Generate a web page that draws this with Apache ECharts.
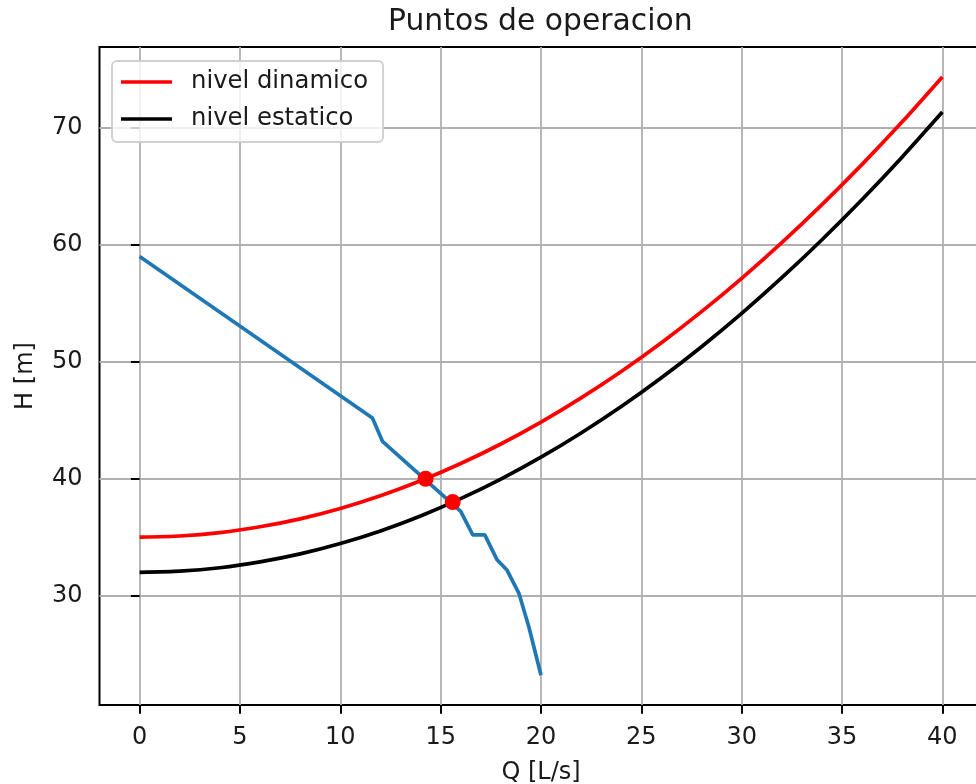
<!DOCTYPE html>
<html>
<head>
<meta charset="utf-8">
<script src="https://cdn.jsdelivr.net/npm/echarts@6/dist/echarts.min.js"></script>
<style>
html,body{margin:0;padding:0;background:#fff;}
#chart{width:976px;height:784px;}
</style>
</head>
<body>
<div id="chart"></div>
<script>
// ---- data ----
const qSystem = [0, 2, 4, 6, 8, 10, 12, 14, 16, 18, 20, 22, 24, 26, 28, 30, 32, 34, 36, 38, 40];
const hDinamico = [35.0, 35.1, 35.39, 35.89, 36.57, 37.46, 38.54, 39.82, 41.3, 42.97, 44.84, 46.91, 49.17, 51.63, 54.29, 57.14, 60.19, 63.44, 66.88, 70.52, 74.36];
const hEstatico = [32.0, 32.1, 32.39, 32.89, 33.57, 34.46, 35.54, 36.82, 38.3, 39.97, 41.84, 43.91, 46.17, 48.63, 51.29, 54.14, 57.19, 60.44, 63.88, 67.52, 71.36];
const qBomba = [0, 11.6, 12.1, 16.0, 16.6, 17.2, 17.8, 18.3, 18.9, 19.4, 20.0];
const hBomba = [59.0, 45.2, 43.2, 37.2, 35.2, 35.2, 33.1, 32.2, 30.2, 27.3, 23.2];
const qOper = [14.25, 15.6];
const hOper = [40.0, 38.0];
const xTicks = [0, 5, 10, 15, 20, 25, 30, 35, 40];
const yTicks = [30, 40, 50, 60, 70];
const titleText = 'Puntos de operacion';
const xName = 'Q [L/s]';
const yName = 'H [m]';
const nameDin = 'nivel dinamico';
const nameEst = 'nivel estatico';

const pairs = (xs, ys) => xs.map((x, i) => [x, ys[i]]);
const FONT = 'DejaVu Sans';
const TXT = '#1a1a1a';

const chart = echarts.init(document.getElementById('chart'), null, {renderer: 'canvas'});
chart.setOption({
  animation: false,
  backgroundColor: '#fff',
  title: {
    text: titleText,
    left: 388, top: 7, padding: 0,
    textStyle: {fontFamily: FONT, fontSize: 29.8, fontWeight: 'normal', color: TXT}
  },
  grid: {
    left: 99.5, top: 47, width: 883, height: 658,
    outerBoundsMode: 'none',
    show: true, borderColor: '#000', borderWidth: 2, backgroundColor: 'transparent',
    containLabel: false
  },
  legend: {
    data: [nameDin, nameEst],
    orient: 'vertical',
    left: 112, top: 61,
    padding: [7, 15, 9, 9],
    itemGap: 9,
    itemWidth: 51, itemHeight: 3.7,
    icon: 'rect',
    backgroundColor: 'rgba(255,255,255,0.8)',
    borderColor: 'rgba(204,204,204,0.9)', borderWidth: 2, borderRadius: 5,
    textStyle: {fontFamily: FONT, fontSize: 24.3, color: TXT, lineHeight: 28, padding: [0, 0, 0, 14]}
  },
  xAxis: {
    type: 'value', min: -2, max: 42,
    name: xName, nameLocation: 'middle', nameGap: 56,
    nameTextStyle: {fontFamily: FONT, fontSize: 24, color: TXT},
    axisLine: {show: false},
    axisTick: {show: true, inside: false, length: 8.7, lineStyle: {color: '#000', width: 2}, customValues: xTicks},
    axisLabel: {fontFamily: FONT, fontSize: 24, color: TXT, margin: 21, customValues: xTicks},
    splitLine: {show: true, lineStyle: {color: '#b0b0b0', width: 1.8}}
  },
  yAxis: {
    type: 'value', min: 20.65, max: 76.92,
    name: yName, nameLocation: 'middle', nameGap: 62, nameRotate: 90,
    nameTextStyle: {fontFamily: FONT, fontSize: 24, color: TXT},
    axisLine: {show: false},
    axisTick: {show: true, inside: false, length: 8.7, lineStyle: {color: '#000', width: 2}, customValues: yTicks},
    axisLabel: {fontFamily: FONT, fontSize: 24, color: TXT, margin: 17, customValues: yTicks},
    splitLine: {show: true, lineStyle: {color: '#b0b0b0', width: 1.8}}
  },
  series: [
    {
      name: 'bomba', type: 'line', data: pairs(qBomba, hBomba),
      showSymbol: false, symbol: 'none', z: 2,
      lineStyle: {color: '#1f77b4', width: 3.7}, itemStyle: {color: '#1f77b4'}
    },
    {
      name: nameDin, type: 'line', data: pairs(qSystem, hDinamico),
      showSymbol: false, symbol: 'none', smooth: 0.2, z: 3,
      lineStyle: {color: '#ff0000', width: 3.7}, itemStyle: {color: '#ff0000'}
    },
    {
      name: nameEst, type: 'line', data: pairs(qSystem, hEstatico),
      showSymbol: false, symbol: 'none', smooth: 0.2, z: 4,
      lineStyle: {color: '#000000', width: 3.7}, itemStyle: {color: '#000000'}
    },
    {
      name: 'operacion', type: 'scatter', data: pairs(qOper, hOper),
      symbol: 'circle', symbolSize: 16, z: 5,
      itemStyle: {color: '#ff0000', opacity: 1}
    }
  ]
});
</script>
</body>
</html>
